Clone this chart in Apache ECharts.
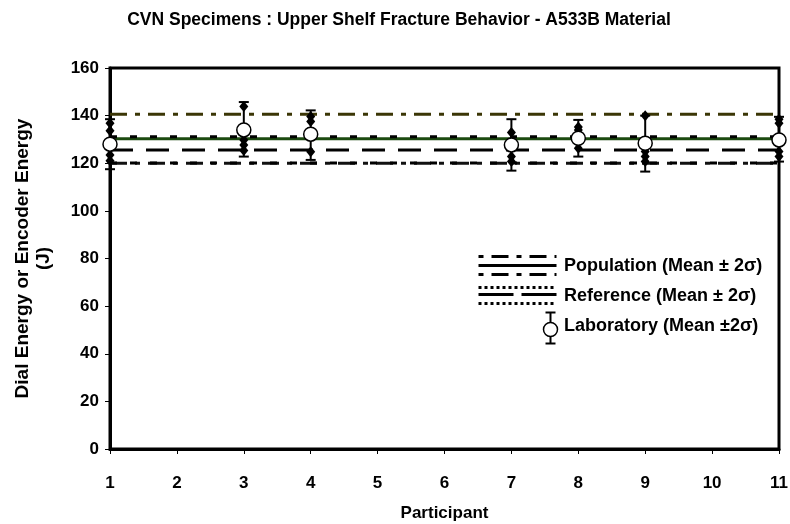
<!DOCTYPE html>
<html>
<head>
<meta charset="utf-8">
<script src="https://cdn.jsdelivr.net/npm/echarts@6/dist/echarts.min.js"></script>
<style>
  html, body { margin: 0; padding: 0; background: #fff; }
  #chart { width: 790px; height: 524px; }
</style>
</head>
<body>
<div id="chart"></div>
<script>
// participants that reported results
const participants = [1, 3, 4, 7, 8, 9, 11]
// laboratory mean and mean +/- 2 sigma
const labMean = [128.0, 134.0, 132.2, 127.7, 130.5, 128.4, 129.8]
const labLow = [117.5, 122.8, 121.4, 116.9, 122.8, 116.5, 120.7]
const labHigh = [138.5, 145.7, 142.2, 138.5, 138.2, 140.0, 139.5]
// individual specimen energies (diamonds)
const specimens = [
  [136.8, 133.6, 123.5, 121.0],
  [143.8, 129.8, 127.7, 125.4],
  [139.6, 137.5, 124.8],
  [132.9, 122.8, 120.7],
  [135.2, 134.0, 126.3],
  [139.9, 124.9, 122.8, 120.7],
  [138.5, 136.8, 124.9, 122.8],
]
// population and reference statistics
const popMean = 130.3
const popUpper = 140.6
const popLower = 120.0
const refMean = 125.6
const refUpper = 131.1
const refLower = 120.1

const xTicks = [1, 2, 3, 4, 5, 6, 7, 8, 9, 10, 11]
const yTicks = [0, 20, 40, 60, 80, 100, 120, 140, 160]

const FONT = "Liberation Sans, Arial, sans-serif"

let myChart = echarts.init(document.getElementById("chart"))

function hline(name, value, color, width, dash) {
  return {
    name: name,
    type: "line",
    data: [[xTicks[0], value], [xTicks[xTicks.length - 1], value]],
    symbol: "none",
    silent: true,
    lineStyle: { color: color, width: width, type: dash },
    z: 2,
  }
}

const specimenData = []
participants.forEach((p, i) => {
  specimens[i].forEach((v) => specimenData.push([p, v]))
})

const legendText = { fontFamily: FONT, fontSize: 18, fontWeight: "bold", fill: "#000" }

myChart.setOption({
  animation: false,
  title: {
    text: "CVN Specimens : Upper Shelf Fracture Behavior - A533B Material",
    left: 394,
    top: 6,
    textAlign: "center",
    textStyle: { fontFamily: FONT, fontSize: 17.5, fontWeight: "bold", color: "#000" },
  },
  grid: {
    left: 110,
    right: 11,
    top: 68,
    bottom: 75,
    outerBoundsMode: "none",
    show: true,
    borderColor: "#000",
    borderWidth: 3,
  },
  xAxis: {
    type: "value",
    min: 1,
    max: 11,
    interval: 1,
    name: "Participant",
    nameLocation: "middle",
    nameGap: 56,
    nameTextStyle: { fontFamily: FONT, fontSize: 17, fontWeight: "bold", color: "#000" },
    axisLine: { show: true, lineStyle: { color: "#000", width: 3 } },
    axisTick: { show: true, length: 5, lineStyle: { color: "#000", width: 1 } },
    axisLabel: { fontFamily: FONT, fontSize: 17, fontWeight: "bold", color: "#000", margin: 26 },
    splitLine: { show: false },
  },
  yAxis: {
    type: "value",
    min: 0,
    max: 160,
    interval: 20,
    name: "Dial Energy or Encoder Energy\n(J)",
    nameLocation: "middle",
    nameGap: 56,
    nameRotate: 90,
    nameTextStyle: { fontFamily: FONT, fontSize: 19, fontWeight: "bold", color: "#000", lineHeight: 21 },
    axisLine: { show: true, lineStyle: { color: "#000", width: 3 } },
    axisTick: { show: true, length: 5, lineStyle: { color: "#000", width: 1 } },
    axisLabel: { fontFamily: FONT, fontSize: 17, fontWeight: "bold", color: "#000", margin: 11 },
    splitLine: { show: false },
  },
  series: [
    hline("Population +2s", popUpper, "#3b3606", 3, [17, 8, 5, 8]),
    hline("Population mean", popMean, "#1c4a10", 3, "solid"),
    hline("Population -2s", popLower, "#111", 3, [17, 8, 5, 8]),
    hline("Reference +2s", refUpper, "#000", 3, [7, 13]),
    hline("Reference mean", refMean, "#000", 3, [23, 13]),
    hline("Reference -2s", refLower, "#000", 3, [7, 13]),
    {
      name: "Laboratory error",
      type: "custom",
      data: participants.map((p, i) => [p, labLow[i], labHigh[i]]),
      renderItem: (params, api) => {
        const lo = api.coord([api.value(0), api.value(1)])
        const hi = api.coord([api.value(0), api.value(2)])
        const cap = 5
        const style = { stroke: "#000", lineWidth: 2 }
        return {
          type: "group",
          children: [
            { type: "line", shape: { x1: lo[0], y1: lo[1], x2: hi[0], y2: hi[1] }, style: style },
            { type: "line", shape: { x1: lo[0] - cap, y1: lo[1], x2: lo[0] + cap, y2: lo[1] }, style: style },
            { type: "line", shape: { x1: hi[0] - cap, y1: hi[1], x2: hi[0] + cap, y2: hi[1] }, style: style },
          ],
        }
      },
      z: 4,
    },
    {
      name: "Specimens",
      type: "scatter",
      data: specimenData,
      symbol: "diamond",
      symbolSize: [9, 11],
      itemStyle: { color: "#000", opacity: 1 },
      z: 5,
    },
    {
      name: "Laboratory",
      type: "scatter",
      data: participants.map((p, i) => [p, labMean[i]]),
      symbol: "circle",
      symbolSize: 14,
      itemStyle: { color: "#fff", borderColor: "#000", borderWidth: 1.5, opacity: 1 },
      z: 6,
    },
  ],
  graphic: [
    // legend
    {
      type: "group",
      left: 476,
      top: 254,
      children: [
        { type: "line", shape: { x1: 0, y1: 2, x2: 78, y2: 2 }, style: { stroke: "#000", lineWidth: 3, lineDash: [5, 8, 17, 8] } },
        { type: "line", shape: { x1: 0, y1: 11, x2: 78, y2: 11 }, style: { stroke: "#000", lineWidth: 3 } },
        { type: "line", shape: { x1: 0, y1: 20, x2: 78, y2: 20 }, style: { stroke: "#000", lineWidth: 3, lineDash: [5, 8, 17, 8] } },
        { type: "line", shape: { x1: 0, y1: 33, x2: 78, y2: 33 }, style: { stroke: "#000", lineWidth: 3, lineDash: [3, 3] } },
        { type: "line", shape: { x1: 0, y1: 40, x2: 78, y2: 40 }, style: { stroke: "#000", lineWidth: 3, lineDash: [35, 8] } },
        { type: "line", shape: { x1: 0, y1: 49, x2: 78, y2: 49 }, style: { stroke: "#000", lineWidth: 3, lineDash: [3, 3] } },
        { type: "line", shape: { x1: 72, y1: 58, x2: 72, y2: 89 }, style: { stroke: "#000", lineWidth: 2 } },
        { type: "line", shape: { x1: 67, y1: 58, x2: 77, y2: 58 }, style: { stroke: "#000", lineWidth: 2 } },
        { type: "line", shape: { x1: 67, y1: 89, x2: 77, y2: 89 }, style: { stroke: "#000", lineWidth: 2 } },
        { type: "circle", shape: { cx: 72, cy: 75, r: 7 }, style: { fill: "#fff", stroke: "#000", lineWidth: 1.5 } },
      ],
    },
    { type: "text", left: 564, top: 257, style: Object.assign({ text: "Population (Mean ± 2σ)" }, legendText) },
    { type: "text", left: 564, top: 287, style: Object.assign({ text: "Reference (Mean ± 2σ)" }, legendText) },
    { type: "text", left: 564, top: 317, style: Object.assign({ text: "Laboratory (Mean ±2σ)" }, legendText) },
  ],
})

window.addEventListener("resize", () => {
  myChart.resize()
})
</script>
</body>
</html>
